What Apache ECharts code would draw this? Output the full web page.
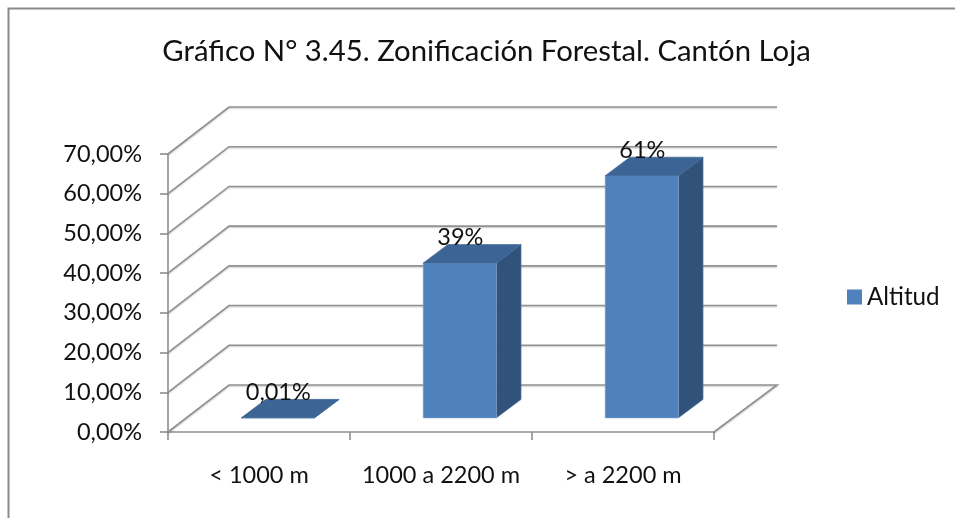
<!DOCTYPE html>
<html>
<head>
<meta charset="utf-8">
<style>html,body{margin:0;padding:0;background:#fff}#c{width:955px;height:518px}</style>
<script src="https://cdn.jsdelivr.net/npm/echarts@6/dist/echarts.min.js"></script>
</head>
<body>
<div id="c"></div>
<script>
const titleText = 'Gráfico N° 3.45. Zonificación Forestal. Cantón Loja';
const categories = ['< 1000 m', '1000 a 2200 m', '> a 2200 m'];
const seriesName = 'Altitud';
const values = [0.01, 39, 61];
const valueLabels = ['0,01%', '39%', '61%'];
const yTicks = [0, 10, 20, 30, 40, 50, 60, 70];

const FONT = 'Lato';
const DX = 61, DY = -47;            // full depth of the chart floor
const NEAR = 0.30, FAR = 0.70;      // position of the bars in that depth
const WIDTH = 0.402;                // bar width as a share of the category band

const chart = echarts.init(document.getElementById('c'));

function renderWall(params, api) {
  const cs = params.coordSys;
  const v = api.value(1);
  const p = api.coord([0, v]);
  const y = p[1];
  const left = cs.x, right = cs.x + cs.width;
  const style = { stroke: '#929292', lineWidth: 1.6, fill: null,
    shadowColor: 'rgba(0,0,0,0.22)', shadowBlur: 1.5, shadowOffsetY: 1 };
  const pts = [[left, y], [left + DX, y + DY], [right + DX + 2, y + DY]];
  if (v === 0) pts.push([right, y]);
  return { type: 'polyline', shape: { points: pts }, style };
}

function renderBar(params, api) {
  const i = api.value(0);
  const band = api.size([1, 0])[0];
  const w = band * WIDTH;
  const base = api.coord([i, 0]);
  const top = api.coord([i, api.value(1)]);
  const x0 = base[0] - w / 2 + DX * NEAR + 0.5;
  const x1 = x0 + w;
  const yb = base[1] + DY * NEAR;
  const yt = top[1] + DY * NEAR;
  const ddx = DX * (FAR - NEAR) + 0.3, ddy = DY * (FAR - NEAR) + 0.3;
  const poly = (points, fill, stroke) => ({
    type: 'polygon', shape: { points },
    style: { fill, stroke: stroke || fill, lineWidth: 0.6 }
  });
  return {
    type: 'group',
    children: [
      poly([[x1, yb], [x1 + ddx, yb + ddy], [x1 + ddx, yt + ddy], [x1, yt]], '#325379', '#5f7fa6'),
      poly([[x0, yb], [x1, yb], [x1, yt], [x0, yt]], '#4f81bd', '#7ea3d0'),
      poly([[x0, yt], [x1, yt], [x1 + ddx, yt + ddy], [x0 + ddx, yt + ddy]], '#3c6494'),
      {
        type: 'text', z2: 100,
        style: {
          text: valueLabels[params.dataIndex],
          x: (x0 + x1) / 2 + 0.5, y: yt + ddy + 5,
          align: 'center', verticalAlign: 'bottom',
          font: '23.5px ' + FONT, fill: '#111'
        }
      }
    ]
  };
}

chart.setOption({
  animation: false,
  backgroundColor: '#fff',
  title: {
    text: titleText, left: 481.5, top: 32, textAlign: 'center',
    textStyle: { fontFamily: FONT, fontSize: 29.3, fontWeight: 'normal', color: '#111' }
  },
  legend: {
    data: [{ name: seriesName, icon: 'rect' }],
    left: 847, top: 285, itemWidth: 15, itemHeight: 15, itemGap: 8,
    textStyle: { fontFamily: FONT, fontSize: 24.2, color: '#111', padding: [0, 0, 0, 0] },
    padding: 0, selectedMode: false
  },
  grid: { left: 168, right: 241, top: 154, bottom: 86, containLabel: false },
  xAxis: {
    type: 'category', data: categories, boundaryGap: true,
    axisLine: { lineStyle: { color: '#8e8e8e', width: 1.6 } },
    axisTick: { show: true, length: 8, alignWithLabel: false, lineStyle: { color: '#8e8e8e', width: 1.6 } },
    axisLabel: { margin: 31, fontFamily: FONT, fontSize: 23.5, color: '#111', interval: 0 },
    splitLine: { show: false }
  },
  yAxis: {
    type: 'value', min: 0, max: 70, interval: 10,
    axisLine: { show: true, lineStyle: { color: '#8e8e8e', width: 1.6 } },
    axisTick: { show: true, length: 8, lineStyle: { color: '#8e8e8e', width: 1.6 } },
    axisLabel: {
      margin: 26, fontFamily: FONT, fontSize: 23.5, color: '#111',
      formatter: v => v.toFixed(2).replace('.', ',') + '%'
    },
    splitLine: { show: false }
  },
  graphic: [{
    type: 'polyline', silent: true,
    shape: { points: [[8.5, 518], [8.5, 8.5], [955, 8.5]] },
    style: { stroke: '#8a8a8a', lineWidth: 2, fill: null }
  }],
  series: [
    {
      type: 'custom', name: 'wall', z: 1, clip: false, silent: true,
      renderItem: renderWall,
      encode: { x: 0, y: 1 },
      data: yTicks.map(v => [0, v])
    },
    {
      type: 'custom', name: seriesName, z: 3, clip: false,
      itemStyle: { color: '#4f81bd' },
      renderItem: renderBar,
      encode: { x: 0, y: 1 },
      data: values.map((v, i) => [i, v])
    }
  ]
});
</script>
</body>
</html>
